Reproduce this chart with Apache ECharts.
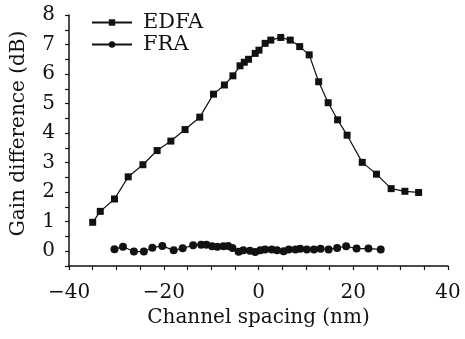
<!DOCTYPE html>
<html>
<head>
<meta charset="utf-8">
<script src="https://cdn.jsdelivr.net/npm/echarts@6/dist/echarts.min.js"></script>
<style>
  html, body { margin: 0; padding: 0; background: #fff; }
  #chart { width: 465px; height: 339px; }
</style>
</head>
<body>
<div id="chart"></div>
<script>
// EDFA: channel spacing (nm) vs gain difference (dB)
const edfaX = [-35.0, -33.4, -30.4, -27.5, -24.4, -21.4, -18.5, -15.5, -12.4, -9.5, -7.2, -5.4, -3.9, -3.0, -2.1, -0.7, 0.1, 1.4, 2.6, 4.7, 6.7, 8.7, 10.7, 12.7, 14.7, 16.7, 18.7, 21.9, 24.9, 28.0, 30.9, 33.8];
const edfaY = [0.98, 1.35, 1.77, 2.52, 2.93, 3.41, 3.73, 4.12, 4.54, 5.32, 5.63, 5.94, 6.28, 6.40, 6.50, 6.70, 6.81, 7.04, 7.15, 7.24, 7.15, 6.93, 6.65, 5.74, 5.03, 4.45, 3.93, 3.01, 2.61, 2.12, 2.03, 1.99];
// FRA
const fraX = [-30.4, -28.6, -26.3, -24.2, -22.4, -20.3, -17.9, -16.0, -13.8, -12.1, -11.0, -9.8, -8.7, -7.4, -6.4, -5.5, -4.2, -3.2, -1.8, -0.7, 0.4, 1.4, 2.8, 3.9, 5.3, 6.4, 7.8, 8.8, 10.2, 11.7, 13.1, 14.8, 16.6, 18.5, 20.7, 23.2, 25.8];
const fraY = [0.07, 0.15, -0.01, -0.01, 0.12, 0.18, 0.03, 0.10, 0.20, 0.22, 0.22, 0.17, 0.15, 0.17, 0.18, 0.11, -0.02, 0.03, 0.02, -0.03, 0.03, 0.06, 0.06, 0.03, 0.00, 0.06, 0.06, 0.08, 0.06, 0.06, 0.08, 0.06, 0.11, 0.17, 0.09, 0.09, 0.06];

const xTicks = [-40, -20, 0, 20, 40];
const yTicks = [0, 1, 2, 3, 4, 5, 6, 7, 8];

const font = "DejaVu Serif";
const ink = "#111";
const zip = (xs, ys) => xs.map((x, i) => [x, ys[i]]);

const chart = echarts.init(document.getElementById("chart"));
chart.setOption({
  animation: false,
  backgroundColor: "#fff",
  textStyle: { fontFamily: font, color: ink },
  grid: { left: 69, right: 17, top: 15, bottom: 73 },
  legend: {
    left: 86,
    top: 7,
    orient: "vertical",
    itemWidth: 40,
    itemHeight: 8,
    itemGap: 1,
    textStyle: { fontFamily: font, fontSize: 21, lineHeight: 21, color: ink, padding: [0, 0, 0, 6] },
    data: ["EDFA", "FRA"],
  },
  xAxis: {
    type: "value",
    min: -40,
    max: 40,
    interval: 5,
    name: "Channel spacing (nm)",
    nameLocation: "middle",
    nameGap: 38,
    nameTextStyle: { fontFamily: font, fontSize: 20, color: ink },
    axisLine: { onZero: false, lineStyle: { color: ink, width: 1.5 } },
    axisTick: { inside: false, length: 4, lineStyle: { color: ink, width: 1.2 } },
    axisLabel: {
      margin: 17,
      fontFamily: font,
      fontSize: 20,
      color: ink,
      formatter: (v) => (xTicks.includes(v) ? String(v).replace("-", "\u2212") : ""),
    },
    splitLine: { show: false },
  },
  yAxis: {
    type: "value",
    min: -0.5,
    max: 8,
    interval: 0.5,
    name: "Gain difference (dB)",
    nameLocation: "middle",
    nameGap: 40,
    nameTextStyle: { fontFamily: font, fontSize: 20, color: ink, padding: [0, 0, 0, 14] },
    axisLine: { onZero: false, lineStyle: { color: ink, width: 1.5 } },
    axisTick: { inside: false, length: 4, lineStyle: { color: ink, width: 1.2 } },
    axisLabel: {
      margin: 14,
      fontFamily: font,
      fontSize: 20,
      color: ink,
      formatter: (v) => (yTicks.includes(v) ? String(v) : ""),
    },
    splitLine: { show: false },
  },
  series: [
    {
      name: "EDFA",
      type: "line",
      data: zip(edfaX, edfaY),
      symbol: "rect",
      symbolSize: 7,
      itemStyle: { color: ink },
      lineStyle: { color: ink, width: 1.2 },
    },
    {
      name: "FRA",
      type: "line",
      data: zip(fraX, fraY),
      symbol: "circle",
      symbolSize: 8,
      itemStyle: { color: ink },
      lineStyle: { color: ink, width: 1.2 },
    },
  ],
});
</script>
</body>
</html>
